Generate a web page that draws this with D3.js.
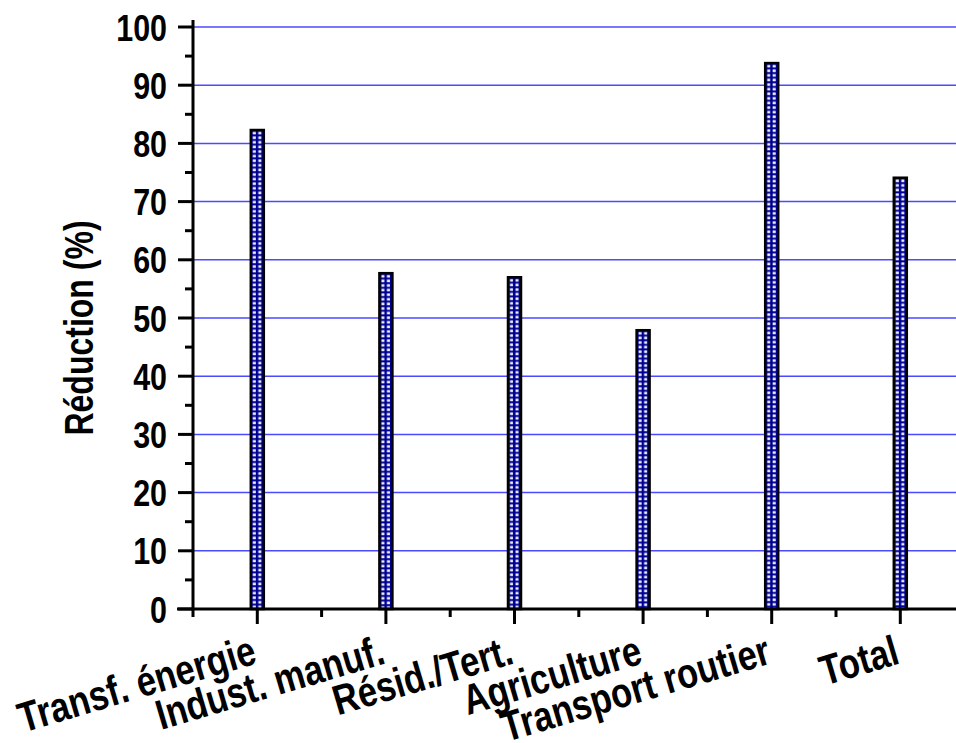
<!DOCTYPE html>
<html><head><meta charset="utf-8">
<script src="https://cdn.jsdelivr.net/npm/d3@7"></script>
<style>html,body{margin:0;padding:0;background:#fff;}</style>
</head><body>
<svg id="chart" width="956" height="743"></svg>
<script>
const categories = ["Transf. énergie","Indust. manuf.","Résid./Tert.","Agriculture","Transport routier","Total"];
const values = [82.3, 57.7, 57.0, 47.9, 93.8, 74.1];
const yTicks = [0,10,20,30,40,50,60,70,80,90,100];
const yMinor = [5,15,25,35,45,55,65,75,85,95];
const yTitle = "Réduction (%)";

const svg = d3.select("#chart");
const FONT = "Arial, 'Liberation Sans', sans-serif";
const x0 = 193, yBottom = 609, yTop = 27;
const step = 128.6;
const x = d3.scaleBand().domain(categories).range([x0, x0 + step*categories.length]).paddingInner(0).paddingOuter(0);
const y = d3.scaleLinear().domain([0,100]).range([yBottom, yTop]);

const defs = svg.append("defs");

// gridlines
svg.append("g").selectAll("line").data(yTicks.filter(d=>d>0)).join("line")
  .attr("x1", x0).attr("x2", 956)
  .attr("y1", d=>y(d)).attr("y2", d=>y(d))
  .attr("stroke", "#4a4aff").attr("stroke-width", 1.5);

// bars
const bw = 13;
categories.forEach((c,i)=>{
  const cx = x(c) + x.bandwidth()/2;
  const bx = cx - bw/2;
  const p = defs.append("pattern").attr("id","pat"+i)
    .attr("patternUnits","userSpaceOnUse")
    .attr("x", bx + 0.5).attr("y", y(values[i]) + 0.5)
    .attr("width", 5.5).attr("height", 4.6);
  p.append("rect").attr("width",5.5).attr("height",4.6).attr("fill","#000090");
  p.append("rect").attr("x",1.5).attr("y",1.3).attr("width",3).attr("height",2.6).attr("fill","#eef0ff");
});
svg.append("g").selectAll("rect").data(categories).join("rect")
  .attr("x", d=> x(d) + x.bandwidth()/2 - bw/2)
  .attr("width", bw)
  .attr("y", (d,i)=> y(values[i]))
  .attr("height", (d,i)=> yBottom - y(values[i]))
  .attr("fill", (d,i)=>"url(#pat"+i+")")
  .attr("stroke", "#000").attr("stroke-width", 2.5);

// y axis
const gy = svg.append("g");
gy.append("line").attr("x1",x0).attr("x2",x0).attr("y1",20).attr("y2",yBottom)
  .attr("stroke","#000").attr("stroke-width",3);
gy.selectAll(".maj").data(yTicks).join("line").attr("class","maj")
  .attr("x1",178).attr("x2",x0).attr("y1",d=>y(d)).attr("y2",d=>y(d))
  .attr("stroke","#000").attr("stroke-width",3);
gy.selectAll(".min").data(yMinor).join("line").attr("class","min")
  .attr("x1",185).attr("x2",x0).attr("y1",d=>y(d)).attr("y2",d=>y(d))
  .attr("stroke","#000").attr("stroke-width",3);
gy.selectAll("text").data(yTicks).join("text")
  .attr("transform", d=>`translate(167,${y(d)}) scale(1.05,1.3)`)
  .attr("dy","0.36em")
  .attr("text-anchor","end").attr("font-family",FONT).attr("font-weight","bold")
  .attr("font-size",29).attr("fill","#000").text(d=>d);

svg.append("text").attr("transform","translate(93,328) rotate(-90) scale(1,1.25)")
  .attr("text-anchor","middle").attr("font-family",FONT).attr("font-weight","bold")
  .attr("font-size",32).attr("fill","#000").text(yTitle);

// x axis
const gx = svg.append("g");
gx.append("line").attr("x1",177).attr("x2",956).attr("y1",yBottom).attr("y2",yBottom)
  .attr("stroke","#000").attr("stroke-width",3);
gx.selectAll(".maj").data(categories).join("line").attr("class","maj")
  .attr("x1",d=>x(d)+x.bandwidth()/2).attr("x2",d=>x(d)+x.bandwidth()/2)
  .attr("y1",yBottom).attr("y2",yBottom+15)
  .attr("stroke","#000").attr("stroke-width",3);
gx.selectAll(".min").data(categories).join("line").attr("class","min")
  .attr("x1",d=>x(d)).attr("x2",d=>x(d))
  .attr("y1",yBottom).attr("y2",yBottom+8)
  .attr("stroke","#000").attr("stroke-width",3);
gx.selectAll("text").data(categories).join("text")
  .attr("transform", d=>`translate(${x(d)+x.bandwidth()/2+1},663) rotate(-16.5) scale(1,1.22)`)
  .attr("text-anchor","end").attr("font-family",FONT).attr("font-weight","bold")
  .attr("font-size",34.5).attr("fill","#000").text(d=>d);
</script>
</body></html>
